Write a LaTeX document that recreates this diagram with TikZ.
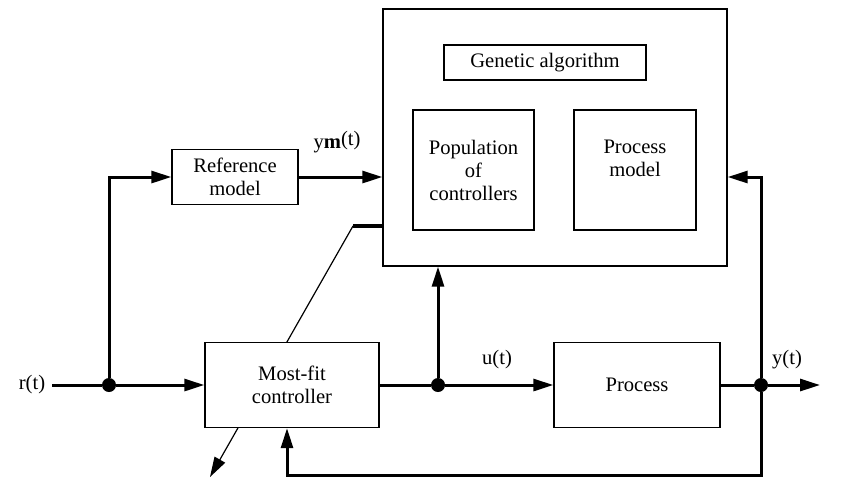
\documentclass[tikz,border=0pt]{standalone}
\usepackage{fontspec}
\setmainfont{Liberation Serif}
\usetikzlibrary{arrows.meta}

\begin{document}
\begin{tikzpicture}[x=0.5pt,y=-0.5pt]
 \tikzstyle{every node}=[font=\fontsize{10.3}{11.5}\selectfont]
 \tikzstyle{block}=[draw,line width=0.7pt,fill=white,inner sep=0pt,align=center]
 \tikzstyle{dot}=[circle,fill,inner sep=0pt,minimum size=7pt]
 \tikzstyle{sig}=[line width=1.5pt,-{Triangle[length=10pt,width=6pt]}]
 \useasboundingbox (0,0) rectangle (854,478);
 % genetic algorithm block
 \node[block,minimum width=172pt,minimum height=128.5pt] (ga) at (555,137.5) {};
 \node[block,minimum width=101pt,minimum height=17.5pt] (gal) at (545,62.5) {Genetic algorithm};
 \node[block,minimum width=60.5pt,minimum height=60pt] (pop) at (473.5,170) {Population\\of\\controllers};
 \node[block,minimum width=61pt,minimum height=60pt] (pmod) at (635,170) {Process\\model\\\phantom{of}};
 % loop
 \node[block,minimum width=63pt,minimum height=27.5pt] (ref) at (235,177) {Reference\\model};
 \node (r) at (32,385) {r(t)};
 \node[dot] (j1) at (109,385) {};
 \node[dot] (j2) at (438,385) {};
 \node[dot] (j3) at (761,385) {};
 \coordinate (yout) at (820,385);
 \coordinate (fbr) at (761,177);
 \coordinate (fb) at (287,475);
 \coordinate (adj) at (353,226);
 \coordinate (adjtip) at (210,477);
 \draw[line width=0.6pt,-{Triangle[length=10pt,width=6pt]}] (adj) -- (adjtip);
 \draw[line width=2pt] (adj) -- (adj -| ga.west);
 \node[block,minimum width=87pt,minimum height=42.5pt] (ctrl) at (292,385) {Most-fit\\controller};
 \node[block,minimum width=83pt,minimum height=42.5pt] (proc) at (637,385) {Process};
 \node (ym) at (337,142) {y\textbf{m}\raisebox{1.5pt}{(t)}};
 \node (u) at (497,360) {u(t)};
 \node (y) at (787,360) {y(t)};
 \path[draw,line width=1.5pt]
 (r) -- (j1)
 (ctrl) -- (j2)
 (proc) -- (j3)
 ;
 \draw[sig] (j1) -- (ctrl);
 \draw[sig] (j1) |- (ref);
 \draw[sig] (ref) -- (ref -| ga.west);
 \draw[sig] (j2) -- (proc);
 \draw[sig] (j2) -- (j2 |- ga.south);
 \draw[sig] (j3) -- (yout);
 \draw[sig] (j3) -- (fbr) -- (fbr -| ga.east);
 \draw[sig] (j3) |- (fb) -- (fb |- ctrl.south);
\end{tikzpicture}
\end{document}
